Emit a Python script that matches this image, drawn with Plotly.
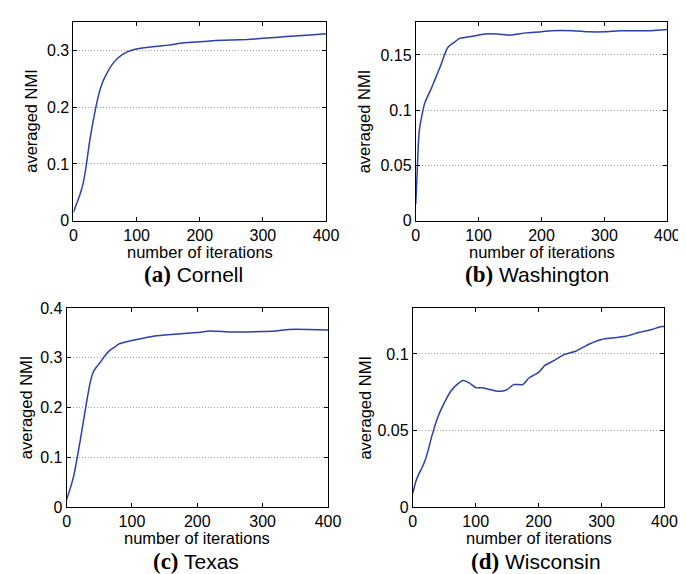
import plotly.graph_objects as go

# ---- data ----
cornell_x = [0, 5, 10, 15, 20, 25, 30, 35, 40, 45, 50, 60, 70, 80, 90, 100, 125, 150, 175, 200, 225, 250, 275, 300, 325, 350, 375, 400]
cornell_y = [0.015, 0.03, 0.045, 0.064, 0.095, 0.135, 0.168, 0.197, 0.222, 0.240, 0.253, 0.273, 0.286, 0.294, 0.299, 0.302, 0.306, 0.309, 0.313, 0.315, 0.317, 0.318, 0.319, 0.321, 0.323, 0.325, 0.327, 0.329]

wash_x = [0, 2, 4, 6, 9, 14, 20, 25, 30, 35, 40, 45, 50, 55, 60, 70, 80, 90, 100, 110, 130, 150, 175, 200, 215, 250, 275, 300, 325, 350, 375, 400]
wash_y = [0.015, 0.04, 0.068, 0.083, 0.093, 0.106, 0.114, 0.120, 0.127, 0.134, 0.141, 0.149, 0.156, 0.159, 0.161, 0.165, 0.166, 0.167, 0.168, 0.169, 0.169, 0.168, 0.170, 0.171, 0.172, 0.172, 0.171, 0.171, 0.172, 0.172, 0.172, 0.173]

texas_x = [0, 5, 11, 16, 21, 26, 31, 36, 41, 46, 51, 58, 66, 73, 80, 90, 100, 115, 135, 160, 200, 220, 250, 275, 300, 320, 340, 370, 400]
texas_y = [0.015, 0.035, 0.063, 0.098, 0.135, 0.175, 0.214, 0.250, 0.272, 0.282, 0.290, 0.303, 0.315, 0.321, 0.328, 0.332, 0.335, 0.339, 0.344, 0.347, 0.351, 0.354, 0.352, 0.352, 0.353, 0.354, 0.357, 0.357, 0.356]

wisc_x = [0, 5, 10, 15, 20, 25, 30, 40, 50, 60, 70, 80, 90, 100, 110, 120, 130, 140, 150, 160, 175, 185, 200, 210, 225, 240, 260, 280, 300, 320, 340, 360, 380, 395, 400]
wisc_y = [0.009, 0.017, 0.022, 0.026, 0.031, 0.038, 0.046, 0.059, 0.068, 0.0755, 0.080, 0.0826, 0.081, 0.078, 0.078, 0.077, 0.076, 0.0756, 0.0767, 0.080, 0.080, 0.0845, 0.088, 0.0926, 0.0958, 0.0996, 0.102, 0.1064, 0.1095, 0.1106, 0.1117, 0.1142, 0.116, 0.118, 0.118]

panels = [
    ("(a)", "Cornell", cornell_x, cornell_y, [0, 0.35], [0, 0.1, 0.2, 0.3], ["0", "0.1", "0.2", "0.3"]),
    ("(b)", "Washington", wash_x, wash_y, [0, 0.18], [0, 0.05, 0.1, 0.15], ["0", "0.05", "0.1", "0.15"]),
    ("(c)", "Texas", texas_x, texas_y, [0, 0.4], [0, 0.1, 0.2, 0.3, 0.4], ["0", "0.1", "0.2", "0.3", "0.4"]),
    ("(d)", "Wisconsin", wisc_x, wisc_y, [0, 0.13], [0, 0.05, 0.1], ["0", "0.05", "0.1"]),
]
x_ticks = [0, 100, 200, 300, 400]

W, H = 686, 574
# plot boxes in pixels (left, right, top, bottom)
boxes = [(63, 322, 6, 211), (414, 672, 6, 211), (56, 324, 301, 506), (411, 669, 301, 506)]
ytitle_x = [20, 361, 14, 361]
xtitle_off = [32, 32, 32, 32]
caption_x = [186, 538, 189, 537]
caption_off = [55, 55, 56, 56]

fig = go.Figure()
LINE = "#2b3fae"
FONT = "Liberation Sans, Arial, sans-serif"

for i, (tag, name, xs, ys, yr, yt, ytl) in enumerate(panels):
    n = i + 1
    xa = "x" if n == 1 else f"x{n}"
    ya = "y" if n == 1 else f"y{n}"
    fig.add_trace(go.Scatter(x=xs, y=ys, mode="lines", line=dict(color=LINE, width=1.5, shape="spline", smoothing=0.5),
                             xaxis=xa, yaxis=ya, showlegend=False))
    l, r, t, b = boxes[i]
    common = dict(showline=True, linecolor="black", linewidth=1, mirror="ticks", ticks="inside", ticklen=4,
                  tickcolor="black", tickfont=dict(family=FONT, size=16, color="black"), zeroline=False)
    fig.layout[f"xaxis{'' if n == 1 else n}"] = dict(domain=[l / W, r / W], anchor=ya, range=[0, 400],
                                                      tickvals=x_ticks, showgrid=False, **common)
    fig.layout[f"yaxis{'' if n == 1 else n}"] = dict(domain=[1 - b / H, 1 - t / H], anchor=xa, range=yr,
                                                      tickvals=yt, ticktext=ytl, showgrid=True,
                                                      gridcolor="#a0a0a0", griddash="1px,2px", gridwidth=1, **common)
    cx = (l + r) / 2
    fig.add_annotation(x=cx / W, y=1 - (b + xtitle_off[i]) / H, xref="paper", yref="paper", text="number of iterations",
                       showarrow=False, font=dict(family=FONT, size=16.5, color="black"), xanchor="center", yanchor="middle")
    fig.add_annotation(x=ytitle_x[i] / W, y=1 - ((t + b) / 2) / H, xref="paper", yref="paper", text="averaged NMI",
                       textangle=-90, showarrow=False, font=dict(family=FONT, size=16.5, color="black"),
                       xanchor="center", yanchor="middle")
    fig.add_annotation(x=caption_x[i] / W, y=1 - (b + caption_off[i]) / H, xref="paper", yref="paper",
                       text=f"<span style='font-family:Liberation Serif, Times New Roman, serif;font-size:23px'><b>{tag}</b></span> {name}",
                       showarrow=False, font=dict(family=FONT, size=21, color="black"), xanchor="center", yanchor="middle")

fig.update_layout(width=W, height=H, margin=dict(l=0, r=0, t=0, b=0), paper_bgcolor="white", plot_bgcolor="white")
fig.write_html("out.html")
